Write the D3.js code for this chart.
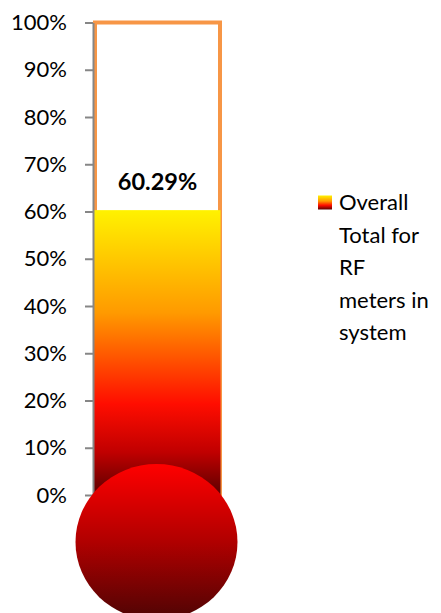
<!DOCTYPE html>
<html>
<head>
<meta charset="utf-8">
<script src="https://cdn.jsdelivr.net/npm/d3@7"></script>
<style>
  html, body { margin: 0; padding: 0; background: #fff; }
  svg { display: block; font-family: Lato, "Open Sans", sans-serif; }
</style>
</head>
<body>
<svg id="chart" width="441" height="613"></svg>
<script>
// ---- data ----
const categories = ["Overall Total for RF meters in system"];
const values = [0.6029];
const maxValues = [1.0];
const tickValues = [0, 0.1, 0.2, 0.3, 0.4, 0.5, 0.6, 0.7, 0.8, 0.9, 1.0];
const legendLines = ["Overall", "Total for", "RF", "meters in", "system"];

// ---- layout ----
const plot = { left: 93, right: 222, top: 22.5, bottom: 495 };

const svg = d3.select("#chart");
const defs = svg.append("defs");

const barGrad = defs.append("linearGradient")
  .attr("id", "barGrad").attr("x1", 0).attr("y1", 0).attr("x2", 0).attr("y2", 1);
[[0, "#fff200"], [0.36, "#ff9a00"], [0.68, "#ff0d00"], [0.85, "#c00000"], [1, "#5a0000"]]
  .forEach(([o, c]) => barGrad.append("stop").attr("offset", o).attr("stop-color", c));

const bulbGrad = defs.append("linearGradient")
  .attr("id", "bulbGrad").attr("x1", 0).attr("y1", 0).attr("x2", 0).attr("y2", 1);
[[0, "#ff0000"], [0.5, "#b00000"], [1, "#4e0404"]]
  .forEach(([o, c]) => bulbGrad.append("stop").attr("offset", o).attr("stop-color", c));

const legGrad = defs.append("linearGradient")
  .attr("id", "legGrad").attr("x1", 0).attr("y1", 0).attr("x2", 0).attr("y2", 1);
[[0, "#fff200"], [0.4, "#ff9a00"], [0.7, "#ff0d00"], [1, "#5a0000"]]
  .forEach(([o, c]) => legGrad.append("stop").attr("offset", o).attr("stop-color", c));

const y = d3.scaleLinear().domain([0, 1]).range([plot.bottom, plot.top]);
const x = d3.scaleBand().domain(categories).range([plot.left, plot.right]).padding(0);

// outline bar (100%)
svg.append("g").selectAll("rect.outline")
  .data(maxValues)
  .join("rect")
  .attr("class", "outline")
  .attr("x", (d, i) => x(categories[i]) + 2)
  .attr("y", d => y(d))
  .attr("width", x.bandwidth() - 4)
  .attr("height", d => y(0) - y(d))
  .attr("fill", "none")
  .attr("stroke", "#f79646")
  .attr("stroke-width", 4);

// value bar
svg.append("g").selectAll("rect.val")
  .data(values)
  .join("rect")
  .attr("class", "val")
  .attr("x", (d, i) => x(categories[i]) + 1)
  .attr("y", d => y(d))
  .attr("width", x.bandwidth() - 2.5)
  .attr("height", d => y(0) - y(d))
  .attr("fill", "url(#barGrad)");

// axis
const axis = d3.axisLeft(y)
  .tickValues(tickValues)
  .tickFormat(d3.format(".0%"))
  .tickSize(8)
  .tickPadding(18)
  .tickSizeOuter(0);
const gAxis = svg.append("g").attr("transform", `translate(${plot.left},0)`).call(axis);
gAxis.select(".domain").attr("stroke", "#868686").attr("stroke-width", 2);
gAxis.selectAll(".tick line").attr("stroke", "#868686").attr("stroke-width", 2);
gAxis.selectAll(".tick text")
  .attr("fill", "#000")
  .style("font-size", "22px")
  .style("font-family", "Lato, 'Open Sans', sans-serif");

// bulb
svg.append("g").selectAll("ellipse")
  .data(values)
  .join("ellipse")
  .attr("cx", (d, i) => x(categories[i]) + x.bandwidth() / 2 - 1)
  .attr("cy", y(0) + 47)
  .attr("rx", 81)
  .attr("ry", 78)
  .attr("fill", "url(#bulbGrad)");

// data label
svg.append("g").selectAll("text")
  .data(values)
  .join("text")
  .attr("x", (d, i) => x(categories[i]) + x.bandwidth() / 2)
  .attr("y", d => y(d) - 20)
  .attr("text-anchor", "middle")
  .style("font-size", "23.5px")
  .style("font-weight", "bold")
  .attr("fill", "#000")
  .text(d => d3.format(".2%")(d));

// legend
const leg = svg.append("g").attr("transform", "translate(318,195.5)");
leg.append("rect").attr("width", 14).attr("height", 14).attr("fill", "url(#legGrad)");
leg.selectAll("text")
  .data(legendLines)
  .join("text")
  .attr("x", 21)
  .attr("y", (d, i) => 14.5 + i * 32.5)
  .style("font-size", "22px")
  .attr("fill", "#000")
  .text(d => d);
</script>
</body>
</html>
